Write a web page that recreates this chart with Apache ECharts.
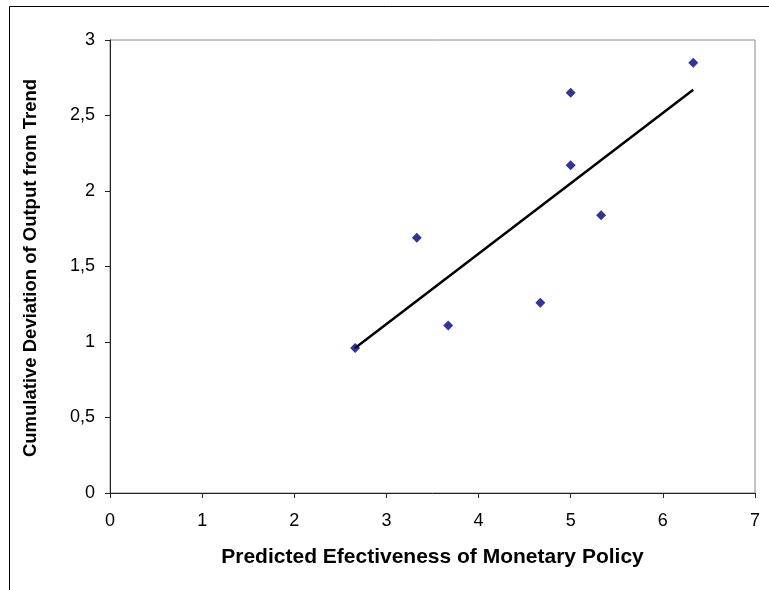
<!DOCTYPE html>
<html>
<head>
<meta charset="utf-8">
<script src="https://cdn.jsdelivr.net/npm/echarts@6/dist/echarts.min.js"></script>
<style>html,body{margin:0;padding:0;background:#fff;}#c{width:769px;height:590px;}</style>
</head>
<body>
<div id="c"></div>
<script>
var xTitle = 'Predicted Efectiveness of Monetary Policy';
var yTitle = 'Cumulative Deviation of Output from Trend';
var pointsX = [2.66, 3.33, 3.67, 4.67, 5.0, 5.0, 5.33, 6.33];
var pointsY = [0.96, 1.69, 1.11, 1.26, 2.65, 2.17, 1.84, 2.85];
var trendX = [2.66, 6.33];
var trendY = [0.96, 2.67];

var scatterData = pointsX.map(function (x, i) { return [x, pointsY[i]]; });
var trendData = trendX.map(function (x, i) { return [x, trendY[i]]; });
var fmt = function (v) { return String(v).replace('.', ','); };

var chart = echarts.init(document.getElementById('c'), null, {renderer: 'canvas'});
chart.setOption({
  animation: false,
  backgroundColor: '#fff',
  textStyle: {fontFamily: 'Liberation Sans'},
  graphic: [{
    type: 'rect', silent: true,
    shape: {x: 9.5, y: 6.5, width: 900, height: 800},
    style: {fill: 'none', stroke: '#000', lineWidth: 1}
  }, {
    type: 'text', silent: true,
    x: 31, y: 268, rotation: Math.PI / 2,
    style: {text: yTitle, font: 'bold 18.5px "Liberation Sans"', fill: '#000', align: 'center', verticalAlign: 'middle'}
  }],
  grid: {left: 110, right: 14, top: 40, bottom: 97, show: true, borderColor: '#888', borderWidth: 1, backgroundColor: 'transparent'},
  xAxis: {
    type: 'value', min: 0, max: 7, interval: 1,
    name: xTitle, nameLocation: 'middle', nameGap: 54,
    nameTextStyle: {fontSize: 21, fontWeight: 'bold', color: '#000', fontFamily: 'Liberation Sans'},
    axisLine: {show: true, onZero: false, lineStyle: {color: '#222', width: 1}},
    axisTick: {show: true, length: 5, inside: false, lineStyle: {color: '#222'}},
    axisLabel: {fontSize: 18, color: '#000', margin: 19, fontFamily: 'Liberation Sans'},
    splitLine: {show: false}
  },
  yAxis: {
    type: 'value', min: 0, max: 3, interval: 0.5,
    axisLine: {show: true, onZero: false, lineStyle: {color: '#222', width: 1}},
    axisTick: {show: true, length: 5, inside: false, lineStyle: {color: '#222'}},
    axisLabel: {fontSize: 18, color: '#000', margin: 15, formatter: fmt, fontFamily: 'Liberation Sans'},
    splitLine: {show: false}
  },
  series: [{
    type: 'line', data: trendData, showSymbol: false, symbol: 'none',
    lineStyle: {color: '#000', width: 2.5}, z: 2
  }, {
    type: 'scatter', data: scatterData, symbol: 'diamond', symbolSize: 10,
    itemStyle: {color: '#000080'}, z: 3
  }]
});
</script>
</body>
</html>
